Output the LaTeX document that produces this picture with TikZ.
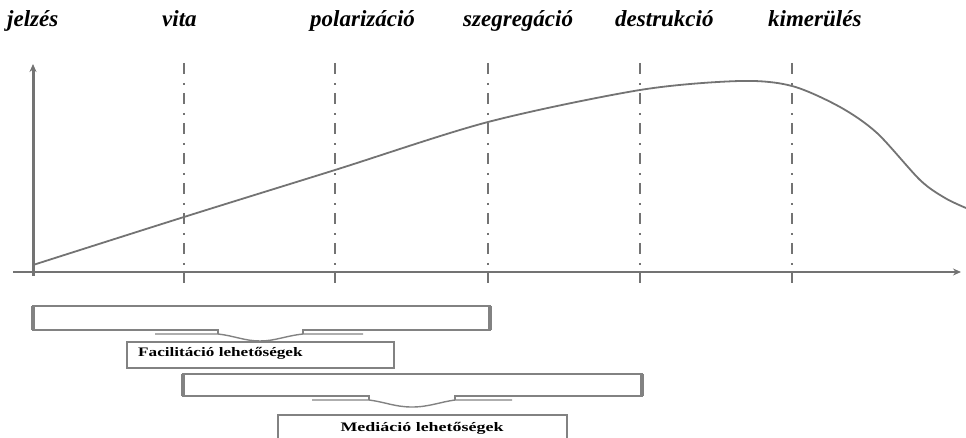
\documentclass[tikz,border=0pt]{standalone}
\usepackage{fontspec}
\setmainfont{Liberation Serif}
\usetikzlibrary{arrows.meta}
\definecolor{ln}{RGB}{115,115,115}
\definecolor{bx}{RGB}{130,130,130}
\begin{document}
\begin{tikzpicture}[x=1pt,y=-1pt,
  phase/.style={font=\fontsize{23}{26}\selectfont\bfseries\itshape, anchor=base west, inner sep=0pt},
  divline/.style={draw=ln, line width=2.8pt, dash pattern=on 11pt off 9pt on 2pt off 8pt},
  curveline/.style={draw=ln, line width=1.8pt},
  axis/.style={draw=ln, -{Stealth[length=8pt,width=7pt]}},
  brace/.style={draw=bx, line width=1.8pt, line join=miter},
  braceside/.style={draw=bx, line width=3.5pt},
  bracebot/.style={draw=bx, line width=1.4pt},
  infobox/.style={draw=bx, line width=1.6pt, anchor=north west, inner sep=0pt, minimum height=26pt},
  infotext/.style={font=\fontsize{13}{15}\selectfont\bfseries, inner sep=0pt}
]
\useasboundingbox (0,0) rectangle (966,438);
% labels
\node[phase] (l1) at (7,27) {jelzés};
\node[phase] (l2) at (162,27) {vita};
\node[phase] (l3) at (310,27) {polarizáció};
\node[phase] (l4) at (463,27) {szegregáció};
\node[phase] (l5) at (615,27) {destrukció};
\node[phase] (l6) at (768,27) {kimerülés};
% division lines
\foreach \x/\n in {184/d1,335/d2,488/d3,640/d4,792/d5}{
  \coordinate (\n t) at (\x,63);
  \coordinate (\n b) at (\x,283);
  \draw[divline] (\n t) -- (\n b);
}
% axes
\coordinate (o) at (33,276);
\coordinate (ytop) at (33,64);
\coordinate (xl) at (13,272);
\coordinate (xr) at (961,272);
\draw[axis, line width=3pt] (o) -- (ytop);
\draw[axis, line width=1.6pt] (xl) -- (xr);
% curve
\draw[curveline] plot[smooth, tension=0.5] coordinates {(33,265) (184,217) (335,170) (488,122) (640,90) (740,81) (792,86) (840,107) (877,133) (920,180) (945,198) (966,208)};
% first brace
\draw[brace] (218,334) -- (218,330) -- (33,330) -- (33,306) -- (490,306) -- (490,330) -- (303,330) -- (303,334);
\draw[braceside] (33,306) -- (33,330) (490,306) -- (490,330);
\draw[bracebot] (155,334) -- (218,334) .. controls (235,336) and (245,341) .. (260,341) .. controls (275,341) and (285,336) .. (303,334) -- (363,334);
\node[infobox, minimum width=267pt] (fb) at (126,341) {};
\node[infotext, anchor=west] (ft) at (138,353) {\scalebox{1.32}[1]{Facilitáció lehetőségek}};
% second brace
\draw[brace] (369,400) -- (369,396) -- (183,396) -- (183,374) -- (642,374) -- (642,396) -- (455,396) -- (455,400);
\draw[braceside] (183,374) -- (183,396) (642,374) -- (642,396);
\draw[bracebot] (312,400) -- (369,400) .. controls (385,402) and (395,407) .. (412,407) .. controls (429,407) and (440,402) .. (455,400) -- (512,400);
\draw[draw=bx, line width=2.2pt] (278,445) -- (278,415) -- (567,415) -- (567,445);
\node[infotext] (mt) at (422,428) {\scalebox{1.38}[1]{Mediáció lehetőségek}};
\end{tikzpicture}
\end{document}
